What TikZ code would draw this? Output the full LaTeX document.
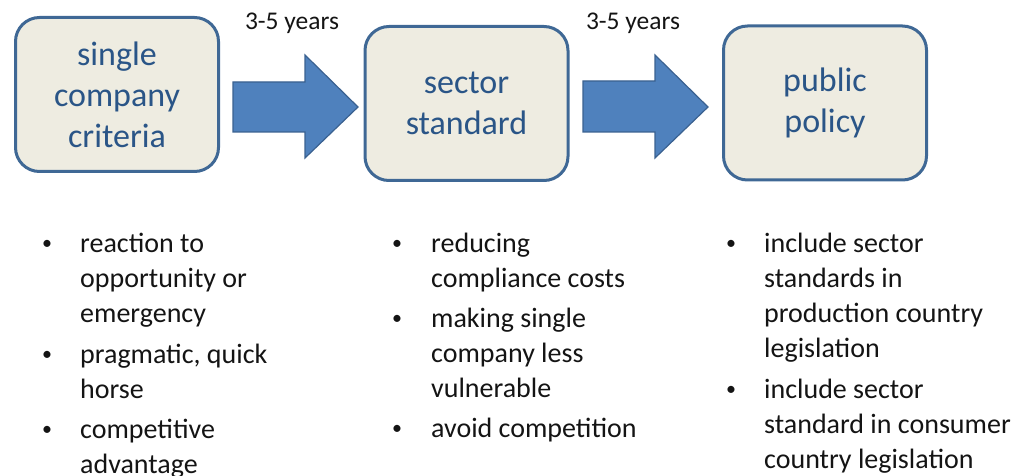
\documentclass[tikz,border=0pt]{standalone}
\usepackage{fontspec}
\setmainfont{Carlito}
\definecolor{boxfill}{HTML}{EEECE1}
\definecolor{boxline}{HTML}{3F6895}
\definecolor{boxtext}{HTML}{2A5587}
\definecolor{arrowfill}{HTML}{4F81BD}
\definecolor{arrowline}{HTML}{3A6190}
\definecolor{bodytext}{HTML}{141414}
\begin{document}
\begin{tikzpicture}[x=1pt,y=-1pt,
  stage/.style={draw=boxline, line width=3pt, fill=boxfill, rounded corners=24pt,
    minimum width=203pt, minimum height=154pt, align=center, text=boxtext,
    font=\fontsize{34}{41}\selectfont, inner sep=0pt},
  blockarrow/.style={draw=arrowline, line width=1.2pt, fill=arrowfill, line join=miter},
  years/.style={font=\fontsize{25.5}{30}\selectfont, anchor=base, inner sep=0pt, text=bodytext},
  item/.style={align=left, anchor=north west, inner sep=0pt, text=bodytext,
    font=\fontsize{28}{35}\selectfont},
  dot/.style={anchor=base, inner sep=0pt, text=bodytext, font=\fontsize{20}{24}\selectfont}]
\useasboundingbox (0,0) rectangle (1023,476);

% stages
\node[stage] (s1) at (117,94.5) {single\\company\\criteria};
\node[stage] (s2) at (466.5,103.5) {sector\\standard};
\node[stage] (s3) at (825,103) {public\\policy};

% block arrows
\path[blockarrow] (233,82) coordinate (a1) -- (305,82) -- (305,55) -- (358,107) coordinate (a1t)
  -- (305,158) -- (305,132) -- (233,132) -- cycle;
\path[blockarrow] (583,81) coordinate (a2) -- (655,81) -- (655,55) -- (708,107) coordinate (a2t)
  -- (655,158) -- (655,132) -- (583,132) -- cycle;

\node[years] (y1) at (292,30) {3-5 years};
\node[years] (y2) at (633,30) {3-5 years};

% column 1
\node[dot] (b11) at (47,249) {•};
\node[item] (t11) at (80,227.5) {\strut reaction to\\opportunity or\\emergency};
\node[dot] (b12) at (47,360) {•};
\node[item] (t12) at (80,338.5) {\strut pragmatic, quick\\horse};
\node[dot] (b13) at (47,435) {•};
\node[item] (t13) at (80,413.5) {\strut competitive\\advantage};

% column 2
\node[dot] (b21) at (397,249) {•};
\node[item] (t21) at (431,227.5) {\strut reducing\\compliance costs};
\node[dot] (b22) at (397,324) {•};
\node[item] (t22) at (431,302.5) {\strut making single\\company less\\vulnerable};
\node[dot] (b23) at (397,434) {•};
\node[item] (t23) at (431,412.5) {\strut avoid competition};

% column 3
\node[dot] (b31) at (731,249) {•};
\node[item] (t31) at (764,227.5) {\strut include sector\\standards in\\production country\\legislation};
\node[dot] (b32) at (731,395) {•};
\node[item] (t32) at (764,373.5) {\strut include sector\\standard in consumer\\country legislation};
\end{tikzpicture}
\end{document}
